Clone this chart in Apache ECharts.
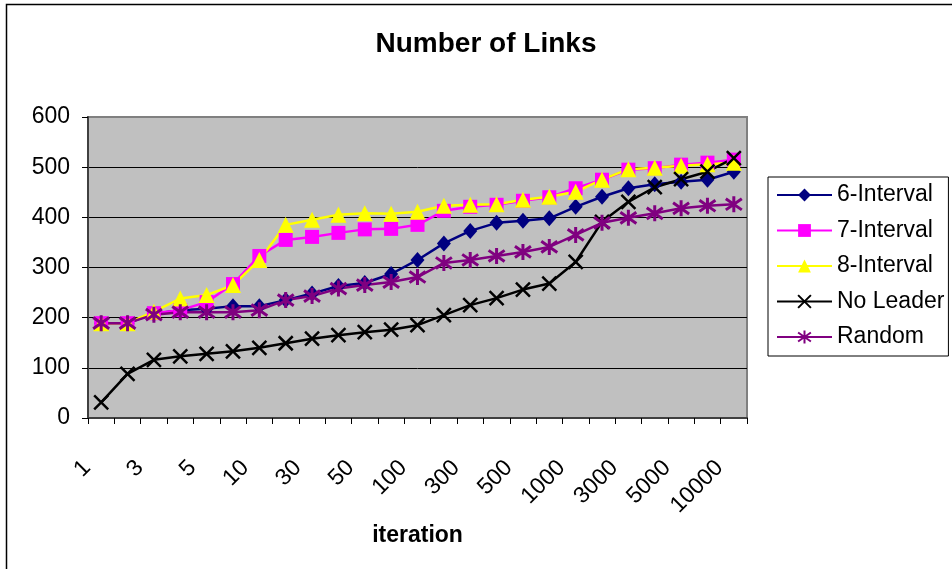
<!DOCTYPE html>
<html>
<head>
<meta charset="utf-8">
<script src="https://cdn.jsdelivr.net/npm/echarts@6/dist/echarts.min.js"></script>
<style>html,body{margin:0;padding:0;background:#fff}#c{width:952px;height:569px}</style>
</head>
<body>
<div id="c"></div>
<script>
const categories = ['1','2','3','4','5','7','10','20','30','40','50','70','100','200','300','400','500','700','1000','2000','3000','4000','5000','7000','10000'];
const interval6 = [189,189,208,215,218,223,223,235,248,263,269,287,315,348,373,389,393,398,421,441,458,466,471,475,491];
const interval7 = [189,189,209,215,231,267,323,355,361,369,376,377,385,413,421,425,433,440,458,475,495,498,505,509,515];
const interval8 = [189,189,212,238,245,265,315,385,395,405,408,407,411,423,425,426,435,441,451,475,496,499,503,506,509];
const noLeader  = [31,88,116,123,128,133,140,149,158,165,171,176,185,205,225,239,256,268,311,391,431,460,476,491,518];
const randomS   = [189,189,206,211,211,211,215,235,243,258,265,271,281,309,315,323,331,341,365,389,399,408,418,423,426];
const yTicks = [0,100,200,300,400,500,600];

const FONT = "'Liberation Sans', Arial, sans-serif";
const X_PATH = 'path://M0,0L10,10M10,0L0,10';
const STAR_PATH = 'path://M5,0L5,10M0,1.5L10,8.5M10,1.5L0,8.5';

function mk(name, data, color, symbol, size, fill, bw) {
  return {
    name: name, type: 'line', data: data,
    symbol: symbol, symbolSize: size,
    lineStyle: { color: color, width: 2.5 },
    itemStyle: fill ? { color: color } : { color: color, borderColor: color, borderWidth: bw || 2.5 },
    emphasis: { disabled: true },
    animation: false
  };
}

const chart = echarts.init(document.getElementById('c'), null, { renderer: 'canvas' });
chart.setOption({
  backgroundColor: '#fff',
  animation: false,
  textStyle: { fontFamily: FONT },
  graphic: [{
    type: 'rect', shape: { x: 6.5, y: 4.5, width: 1000, height: 1000 },
    style: { fill: 'none', stroke: '#000', lineWidth: 1.5 }, silent: true
  }],
  title: {
    text: 'Number of Links', left: 481, textAlign: 'center', top: 25,
    textStyle: { fontFamily: FONT, fontSize: 28, fontWeight: 'bold', color: '#000' }
  },
  legend: {
    orient: 'vertical', left: 768, top: 177,
    padding: [5, 4, 6, 8], itemGap: 9.5,
    itemWidth: 55, itemHeight: 16,
    borderColor: '#000', borderWidth: 1,
    textStyle: { fontFamily: FONT, fontSize: 23, color: '#000', lineHeight: 26 },
    data: ['6-Interval','7-Interval','8-Interval','No Leader','Random']
  },
  grid: {
    left: 88, top: 117, width: 659, height: 301,
    show: true, backgroundColor: '#C0C0C0', borderColor: '#808080', borderWidth: 2
  },
  xAxis: {
    type: 'category', data: categories, boundaryGap: true,
    name: 'iteration', nameLocation: 'middle', nameGap: 94,
    nameTextStyle: { fontFamily: FONT, fontSize: 23, fontWeight: 'bold', color: '#000' },
    axisLine: { lineStyle: { color: '#404040', width: 2 } },
    axisTick: { show: true, alignWithLabel: false, interval: 0, length: 6, lineStyle: { color: '#000' } },
    axisLabel: { interval: 1, rotate: 45, margin: 32, padding: [0, 20, 0, 0], fontFamily: FONT, fontSize: 23, color: '#000' },
    splitLine: { show: false }
  },
  yAxis: {
    type: 'value', min: 0, max: 600, interval: 100,
    axisLine: { show: true, lineStyle: { color: '#404040', width: 2 } },
    axisTick: { show: true, length: 6, lineStyle: { color: '#000' } },
    axisLabel: { margin: 18, fontFamily: FONT, fontSize: 23, color: '#000',
      formatter: function (v) { return yTicks.indexOf(v) >= 0 ? String(v) : ''; } },
    splitLine: { show: true, lineStyle: { color: ['#000','#000','#000','#000','#000','#000','#808080'], width: 1 } }
  },
  series: [
    mk('6-Interval', interval6, '#000080', 'diamond', [14, 16], true),
    mk('7-Interval', interval7, '#FF00FF', 'rect', 14, true),
    mk('8-Interval', interval8, '#FFFF00', 'triangle', 16, true),
    mk('No Leader', noLeader, '#000000', X_PATH, 14, false, 2.5),
    mk('Random', randomS, '#800080', STAR_PATH, 16, false, 3)
  ]
});
</script>
</body>
</html>
